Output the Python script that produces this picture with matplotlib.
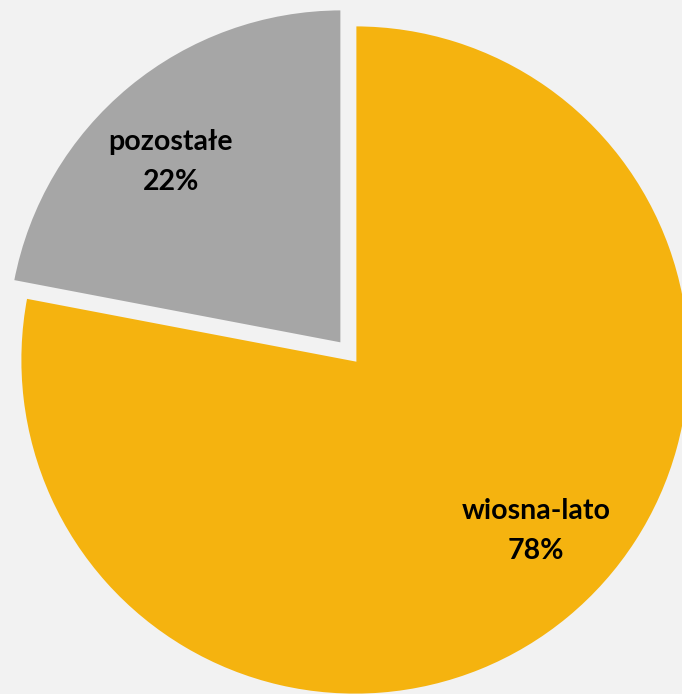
import matplotlib.pyplot as plt

# Season share of sales
categories = ['wiosna-lato', 'pozostałe']
shares = [78, 22]
colors = ['#F5B30F', '#A6A6A6']
bg = '#F2F2F2'

W, H = 682, 694
cx, cy, R = 355, 360, 335  # pie centre and radius in pixels

fig = plt.figure(figsize=(W / 100, H / 100), dpi=100)
fig.patch.set_facecolor(bg)
ax = fig.add_axes([0, 0, 1, 1])
ax.set_facecolor(bg)

wedges, _ = ax.pie(shares, colors=colors, startangle=90, counterclock=False,
                   explode=[0, 0.062], radius=1,
                   wedgeprops=dict(edgecolor=bg, linewidth=2))

# map pixels to data units so the pie sits where it should and gets cropped
ax.set_xlim(-cx / R, (W - cx) / R)
ax.set_ylim((cy - H) / R, cy / R)
ax.set_aspect('auto')
ax.axis('off')

# label spots (pixels, from top-left)
label_px = [(536, 531), (171, 162)]
for name, val, (px, py) in zip(categories, shares, label_px):
    ax.text((px - cx) / R, (cy - py) / R, f'{name}\n{val}%',
            ha='center', va='center', fontsize=20.5, fontweight='bold',
            family='Lato', linespacing=1.65, color='black')

fig.savefig('out.png', dpi=100, facecolor=bg)
